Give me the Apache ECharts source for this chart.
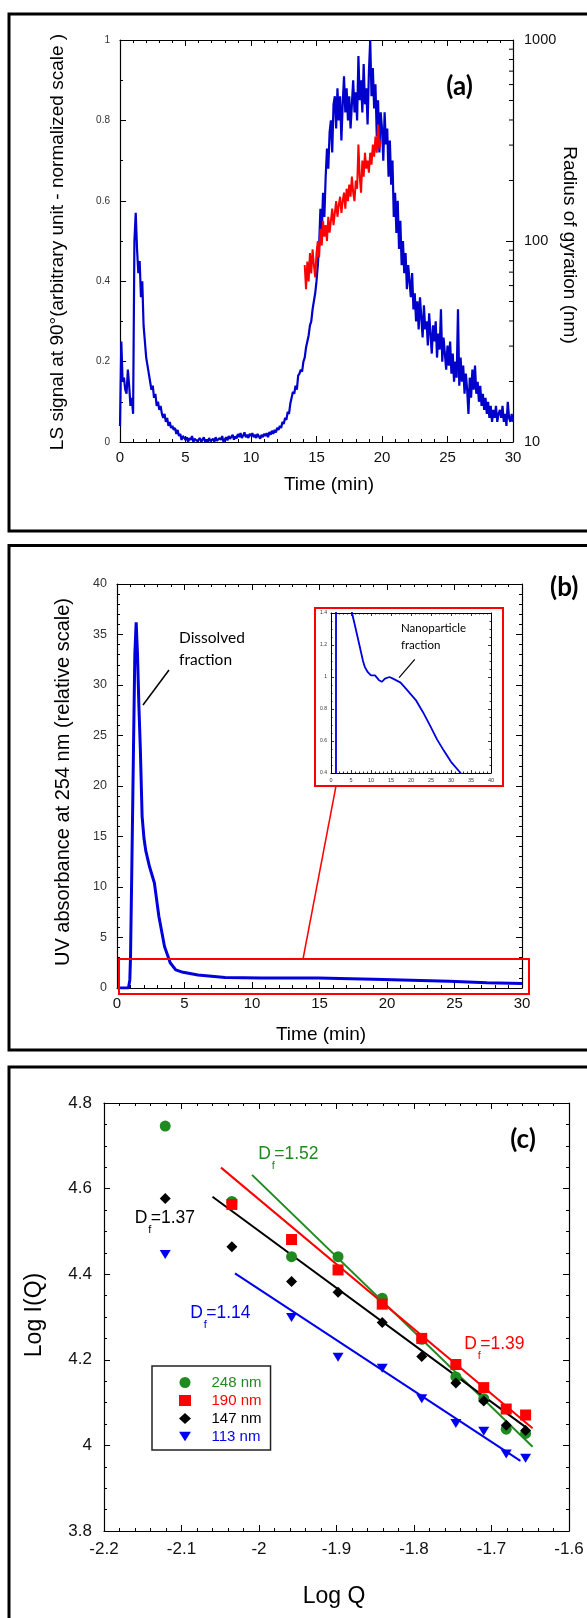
<!DOCTYPE html>
<html><head><meta charset="utf-8">
<script src="https://cdn.jsdelivr.net/npm/echarts@6/dist/echarts.min.js"></script>
<style>html,body{margin:0;padding:0;background:#fff}#c{width:587px;height:1618px}</style>
</head><body><div id="c"></div>
<script>
// ---------- Panel (a): light scattering signal and radius of gyration ----------
const lsTimeStep = 0.1; // min
const lsSignal = [
 0.04,
 0.25,0.15,0.16,0.13,0.12,0.18,0.14,0.09,0.11,0.07,
 0.50,0.57,0.48,0.42,0.45,0.36,0.40,0.29,0.25,0.21,
 0.19,0.17,0.15,0.13,0.14,0.11,0.12,0.09,0.10,0.08,
 0.09,0.07,0.06,0.07,0.05,0.06,0.04,0.05,0.035,0.04,
 0.03,0.035,0.02,0.03,0.015,0.02,0.005,0.015,0.01,0.005,
 0.012,0.0,0.01,0.005,0.015,0.0,0.008,0.012,0.002,0.006,
 0.01,0.0,0.004,0.012,0.0,0.006,0.0,0.01,0.002,0.0,
 0.008,0.0,0.012,0.003,0.0,0.01,0.005,0.015,0.0,0.006,
 0.012,0.004,0.015,0.008,0.01,0.018,0.006,0.014,0.009,0.02,
 0.012,0.022,0.01,0.016,0.024,0.012,0.018,0.01,0.02,0.015,
 0.022,0.012,0.018,0.01,0.02,0.014,0.008,0.018,0.012,0.02,
 0.015,0.022,0.012,0.025,0.018,0.028,0.02,0.03,0.024,0.035,
 0.03,0.04,0.035,0.05,0.045,0.06,0.055,0.075,0.07,0.095,
 0.11,0.125,0.12,0.14,0.13,0.165,0.17,0.18,0.175,0.2,
 0.21,0.235,0.25,0.265,0.29,0.3,0.33,0.35,0.37,0.40,
 0.44,0.49,0.58,0.52,0.62,0.56,0.66,0.73,0.68,0.77,
 0.80,0.72,0.84,0.86,0.78,0.88,0.80,0.86,0.75,0.84,
 0.91,0.82,0.88,0.80,0.86,0.78,0.84,0.90,0.82,0.87,
 0.80,0.96,0.85,0.90,0.82,0.94,0.84,0.88,0.79,0.92,
 1.0,0.86,0.93,0.83,0.89,0.76,0.85,0.72,0.82,0.78,
 0.70,0.82,0.74,0.78,0.66,0.75,0.64,0.70,0.56,0.62,
 0.52,0.60,0.48,0.55,0.44,0.50,0.42,0.47,0.38,0.44,
 0.40,0.36,0.42,0.33,0.37,0.30,0.35,0.28,0.36,0.31,
 0.26,0.34,0.28,0.30,0.24,0.32,0.27,0.22,0.29,0.25,
 0.30,0.21,0.27,0.23,0.33,0.20,0.26,0.22,0.18,0.24,
 0.19,0.25,0.17,0.22,0.15,0.20,0.16,0.33,0.14,0.21,
 0.15,0.19,0.12,0.17,0.13,0.07,0.16,0.11,0.18,0.13,
 0.19,0.12,0.15,0.10,0.14,0.09,0.12,0.08,0.11,0.07,
 0.10,0.06,0.09,0.05,0.08,0.06,0.09,0.05,0.07,0.08,
 0.06,0.09,0.05,0.07,0.04,0.10,0.06,0.05,0.07,0.05
];
const rgTimeStart = 14.1, rgTimeStep = 0.1; // min
const rgRadius = [ // nm
 76,57.5,79,63,87,69,91,76,66,87,
 100,83,115,95,126,105,120,100,132,110,
 126,145,120,138,158,132,151,166,138,158,
 174,145,182,158,191,166,209,174,158,200,
 182,302,209,174,251,209,275,229,251,219,
 275,240,302,263,331,275,380,288,316
];
const rgMinorTicks = [20,30,40,50,60,70,80,90,200,300,400,500,600,700,800,900];

// ---------- Panel (b): UV absorbance ----------
const uvTime = [0,0.85,0.95,1.0,1.1,1.22,1.32,1.42,1.52,1.62,1.73,1.86,2.0,2.13,2.41,2.77,3.1,3.52,3.94,4.35,4.9,6.0,8.0,10.7,14.9,19.0,21.8,24.6,27.4,30];
const uvAbs  = [0,0,0.8,3,12,23.6,33,36.2,33,28,23.6,17,14.8,13.6,12.0,10.4,7.1,4.1,2.5,1.8,1.55,1.28,1.05,0.99,0.99,0.86,0.76,0.66,0.52,0.45];
const insetTime = [1.25,1.35,3.0,4.7,5.25,6.0,7.1,8.0,8.5,9.2,10.0,11.0,12.0,12.7,13.5,14.6,15.5,17.4,19.0,21.2,23.0,24.9,26.5,28.2,30.0,32.4,33.5];
const insetAbs  = [0.3,20,5,1.7,1.4,1.32,1.2,1.1,1.06,1.03,1.01,1.01,0.98,0.97,0.99,1.0,0.99,0.965,0.92,0.856,0.78,0.69,0.61,0.54,0.47,0.40,0.36];

// ---------- Panel (c): Log I(Q) vs Log Q ----------
const logQ     = [-2.121,-2.035,-1.958,-1.898,-1.841,-1.790,-1.746,-1.710,-1.681,-1.656];
const i248 = [4.746,4.57,4.441,4.441,4.344,4.248,4.160,4.109,4.038,4.028];
const i190 = [null,4.563,4.481,4.410,4.330,4.250,4.189,4.135,4.085,4.071];
const i147 = [4.577,4.464,4.383,4.358,4.287,4.208,4.146,4.104,4.047,4.035];
const i113 = [4.446,null,4.299,4.206,4.180,4.109,4.051,4.033,3.980,3.970];
const fit248 = [[-2.009,4.632],[-1.647,3.997]];
const fit190 = [[-2.049,4.649],[-1.647,4.040]];
const fit147 = [[-2.060,4.581],[-1.6555,4.042]];
const fit113 = [[-2.031,4.402],[-1.6627,3.964]];
const seriesNames = ['248 nm','190 nm','147 nm','113 nm'];
const dfLabels = ['1.52','1.39','1.37','1.14'];

// ---------- build ----------
const GREEN = '#1f8a1f', RED = '#ff0000', BLACK = '#000000', BLUE = '#0000ee';
const lsData = lsSignal.map((v,i)=>[+(i*lsTimeStep).toFixed(2), v]);
const rgData = rgRadius.map((v,i)=>[+(rgTimeStart+i*rgTimeStep).toFixed(2), v]);
const uvData = uvTime.map((t,i)=>[t, uvAbs[i]]);
const insetData = insetTime.map((t,i)=>[t, insetAbs[i]]);
const pts = arr => logQ.map((q,i)=>[q, arr[i]]).filter(p=>p[1]!==null);

const AX = '#000';
const FONT = 'Liberation Sans';
function ax(gi, min, max, interval, minorSplit, position, label, extra) {
  return Object.assign({
    gridIndex: gi, type:'value', min, max, interval, position,
    axisLine:{show:true, onZero:false, lineStyle:{color:AX, width:1.2}},
    axisTick:{show:true, inside:true, length:6, lineStyle:{color:AX, width:1}},
    minorTick:{show: minorSplit>1, splitNumber:minorSplit, length:3, lineStyle:{color:AX, width:1}},
    splitLine:{show:false}, minorSplitLine:{show:false},
    axisLabel: label ? Object.assign({show:true, color:'#111', fontFamily:FONT}, label) : {show:false}
  }, extra || {});
}
const insetTicks = {axisTick:{show:true,inside:true,length:3,lineStyle:{color:AX,width:0.8}},
  axisLine:{show:true,onZero:false,lineStyle:{color:AX,width:1}}};

function txt(x, y, text, font, color, align, vAlign, rot) {
  return {type:'text', x, y, rotation: rot || 0, z: 100,
    style:{text, font, fill: color || '#000', textAlign: align || 'left', textVerticalAlign: vAlign || 'middle',
           align: align || 'left', verticalAlign: vAlign || 'middle'}};
}
function line(x1,y1,x2,y2,color,w){ return {type:'line', z:100, shape:{x1,y1,x2,y2}, style:{stroke:color, lineWidth:w}}; }
function rect(x,y,w,h,color,lw){ return {type:'rect', z:100, shape:{x,y,width:w,height:h}, style:{stroke:color, lineWidth:lw, fill:'none'}}; }
function df(x, y, val, color) {
  return [
    txt(x, y, 'D', '17.5px "Liberation Sans"', color, 'left', 'middle'),
    txt(x+13.5, y+11.5, 'f', '11px "Liberation Sans"', color, 'left', 'middle'),
    txt(x+16, y, '=' + val, '17.5px "Liberation Sans"', color, 'left', 'middle')
  ];
}

const option = {
  animation:false,
  backgroundColor:'#fff',
  grid:[
    {left:120, top:40, width:393, height:402, outerBoundsMode:'none'},
    {left:117, top:584, width:405, height:404, outerBoundsMode:'none'},
    {left:331, top:613, width:160, height:160, outerBoundsMode:'none'},
    {left:104, top:1103, width:465, height:428, outerBoundsMode:'none'}
  ],
  xAxis:[
    ax(0,0,30,5,5,'bottom',{fontSize:15, margin:8}),
    ax(0,0,30,5,5,'top',null),
    ax(1,0,30,5,5,'bottom',{fontSize:15, margin:8}),
    ax(1,0,30,5,5,'top',null),
    ax(2,0,40,5,5,'bottom',{fontSize:5.5, margin:4, color:'#333'},Object.assign({minorTick:{show:true,splitNumber:5,length:1.5,lineStyle:{color:AX,width:0.8}}},insetTicks)),
    ax(2,0,40,5,5,'top',null,Object.assign({minorTick:{show:true,splitNumber:5,length:1.5,lineStyle:{color:AX,width:0.8}}},insetTicks)),
    ax(3,-2.2,-1.6,0.1,5,'bottom',{fontSize:17, margin:10}),
    ax(3,-2.2,-1.6,0.1,5,'top',null)
  ],
  yAxis:[
    ax(0,0,1,0.2,2,'left',{fontSize:10, margin:10, color:'#333'}),
    {gridIndex:0, type:'log', logBase:10, min:10, max:1000, position:'right',
     axisLine:{show:true, onZero:false, lineStyle:{color:AX, width:1.2}},
     axisTick:{show:true, inside:true, length:7, lineStyle:{color:AX, width:1}},
     minorTick:{show:false}, splitLine:{show:false},
     axisLabel:{show:true, fontSize:14.5, margin:11, color:'#111', fontFamily:FONT, formatter:v=>String(Math.round(v))}},
    ax(1,0,40,5,5,'left',{fontSize:12.5, margin:10, color:'#333'}),
    ax(1,0,40,5,5,'right',null),
    ax(2,0.4,1.4,0.2,4,'left',{fontSize:5, margin:4, color:'#333'},Object.assign({minorTick:{show:true,splitNumber:4,length:1.5,lineStyle:{color:AX,width:0.8}}},insetTicks)),
    ax(2,0.4,1.4,0.2,4,'right',null,Object.assign({minorTick:{show:true,splitNumber:4,length:1.5,lineStyle:{color:AX,width:0.8}}},insetTicks)),
    ax(3,3.8,4.8,0.2,4,'left',{fontSize:17, margin:12}),
    ax(3,3.8,4.8,0.2,4,'right',null)
  ],
  legend:{
    left:152, top:1366, orient:'vertical', itemWidth:12, itemHeight:11, itemGap:3,
    padding:[9,9,6,27], borderColor:'#222', borderWidth:1.5, backgroundColor:'#fff',
    formatter: name => '{s|}' + name,
    textStyle:{fontSize:15, fontFamily:FONT, lineHeight:15, rich:{s:{width:15.5, fontSize:15, lineHeight:15}}},
    data:[
      {name:seriesNames[0], icon:'circle', textStyle:{color:GREEN}},
      {name:seriesNames[1], icon:'rect', textStyle:{color:RED}},
      {name:seriesNames[2], icon:'diamond', textStyle:{color:BLACK}},
      {name:seriesNames[3], icon:'path://M0,0L10,0L5,8Z', textStyle:{color:BLUE}}
    ]
  },
  series:[
    {name:'LS signal', type:'line', xAxisIndex:0, yAxisIndex:0, data:lsData, showSymbol:false, lineStyle:{color:'#0000cc', width:2.2}, z:2},
    {name:'Rg', type:'line', xAxisIndex:0, yAxisIndex:1, data:rgData, showSymbol:false, lineStyle:{color:RED, width:2}, z:3},
    {name:'rg minor ticks', type:'custom', xAxisIndex:0, yAxisIndex:1, clip:false, silent:true,
     data: rgMinorTicks.map(v=>[30, v]),
     renderItem:(params, api)=>{ const p = api.coord([api.value(0), api.value(1)]);
       return {type:'line', shape:{x1:p[0], y1:p[1], x2:p[0]-4, y2:p[1]}, style:{stroke:'#000', lineWidth:1}}; }},
    {name:'UV', type:'line', xAxisIndex:2, yAxisIndex:2, data:uvData, showSymbol:false, lineStyle:{color:'#0000dd', width:3}},
    {name:'UV inset', type:'line', xAxisIndex:4, yAxisIndex:4, data:insetData, showSymbol:false, clip:true, lineStyle:{color:'#0000dd', width:1.8}},
    {name:'fit 248', type:'line', xAxisIndex:6, yAxisIndex:6, data:fit248, showSymbol:false, lineStyle:{color:GREEN, width:2}, z:2},
    {name:'fit 190', type:'line', xAxisIndex:6, yAxisIndex:6, data:fit190, showSymbol:false, lineStyle:{color:RED, width:2}, z:2},
    {name:'fit 147', type:'line', xAxisIndex:6, yAxisIndex:6, data:fit147, showSymbol:false, lineStyle:{color:BLACK, width:2}, z:2},
    {name:'fit 113', type:'line', xAxisIndex:6, yAxisIndex:6, data:fit113, showSymbol:false, lineStyle:{color:BLUE, width:2}, z:2},
    {name:seriesNames[0], type:'scatter', xAxisIndex:6, yAxisIndex:6, data:pts(i248), symbol:'circle', symbolSize:11, itemStyle:{color:GREEN, opacity:1}, z:3},
    {name:seriesNames[1], type:'scatter', xAxisIndex:6, yAxisIndex:6, data:pts(i190), symbol:'rect', symbolSize:11, itemStyle:{color:RED, opacity:1}, z:4},
    {name:seriesNames[2], type:'scatter', xAxisIndex:6, yAxisIndex:6, data:pts(i147), symbol:'diamond', symbolSize:11, itemStyle:{color:BLACK, opacity:1}, z:5},
    {name:seriesNames[3], type:'scatter', xAxisIndex:6, yAxisIndex:6, data:pts(i113), symbol:'path://M0,0L10,0L5,8Z', symbolSize:[11,9], itemStyle:{color:BLUE, opacity:1}, z:5}
  ],
  graphic:[
    rect(9,14,620,517,'#000',3),
    rect(9,545.5,620,504.5,'#000',3),
    rect(9,1067,620,600,'#000',3),
    // panel (a)
    txt(459.5,87,'(a)','bold 26px Lato','#000','center','middle'),
    txt(58,242,'LS signal at 90°(arbitrary unit - normalized scale )','19px "Liberation Sans"','#000','center','middle',Math.PI/2),
    txt(569,245,'Radius of gyration (nm)','19px "Liberation Sans"','#000','center','middle',-Math.PI/2),
    txt(329,485,'Time (min)','19px "Liberation Sans"','#000','center','middle'),
    // panel (b)
    txt(550,588,'(b)','bold 26px Lato','#000','left','middle'),
    txt(63,782,'UV absorbance at 254 nm (relative scale)','20px "Liberation Sans"','#000','center','middle',Math.PI/2),
    txt(321,1035,'Time (min)','19px "Liberation Sans"','#000','center','middle'),
    txt(179,638,'Dissolved','15.5px Lato','#000','left','middle'),
    txt(179,660,'fraction','15.5px Lato','#000','left','middle'),
    line(169,670,143,705,'#000',1.5),
    txt(401,628,'Nanoparticle','11.5px Lato','#000','left','middle'),
    txt(401,645,'fraction','11.5px Lato','#000','left','middle'),
    line(414.8,659.3,399.1,677.7,'#000',1.2),
    rect(119,959,410,35,'#ff0000',2),
    line(303,959,336,786,'#ff0000',1.5),
    rect(315,608,188,178,'#ff0000',2),
    // panel (c)
    txt(523,1140,'(c)','bold 26px Lato','#000','center','middle'),
    txt(35,1315,'Log I(Q)','23px "Liberation Sans"','#000','center','middle',Math.PI/2),
    txt(334,1597,'Log Q','23px "Liberation Sans"','#000','center','middle'),
    ...df(258.3,1154,dfLabels[0],GREEN),
    ...df(464.2,1344,dfLabels[1],RED),
    ...df(134.8,1218,dfLabels[2],BLACK),
    ...df(190.2,1313,dfLabels[3],BLUE)
  ]
};
const chart = echarts.init(document.getElementById('c'));
chart.setOption(option);
</script>
</body></html>
